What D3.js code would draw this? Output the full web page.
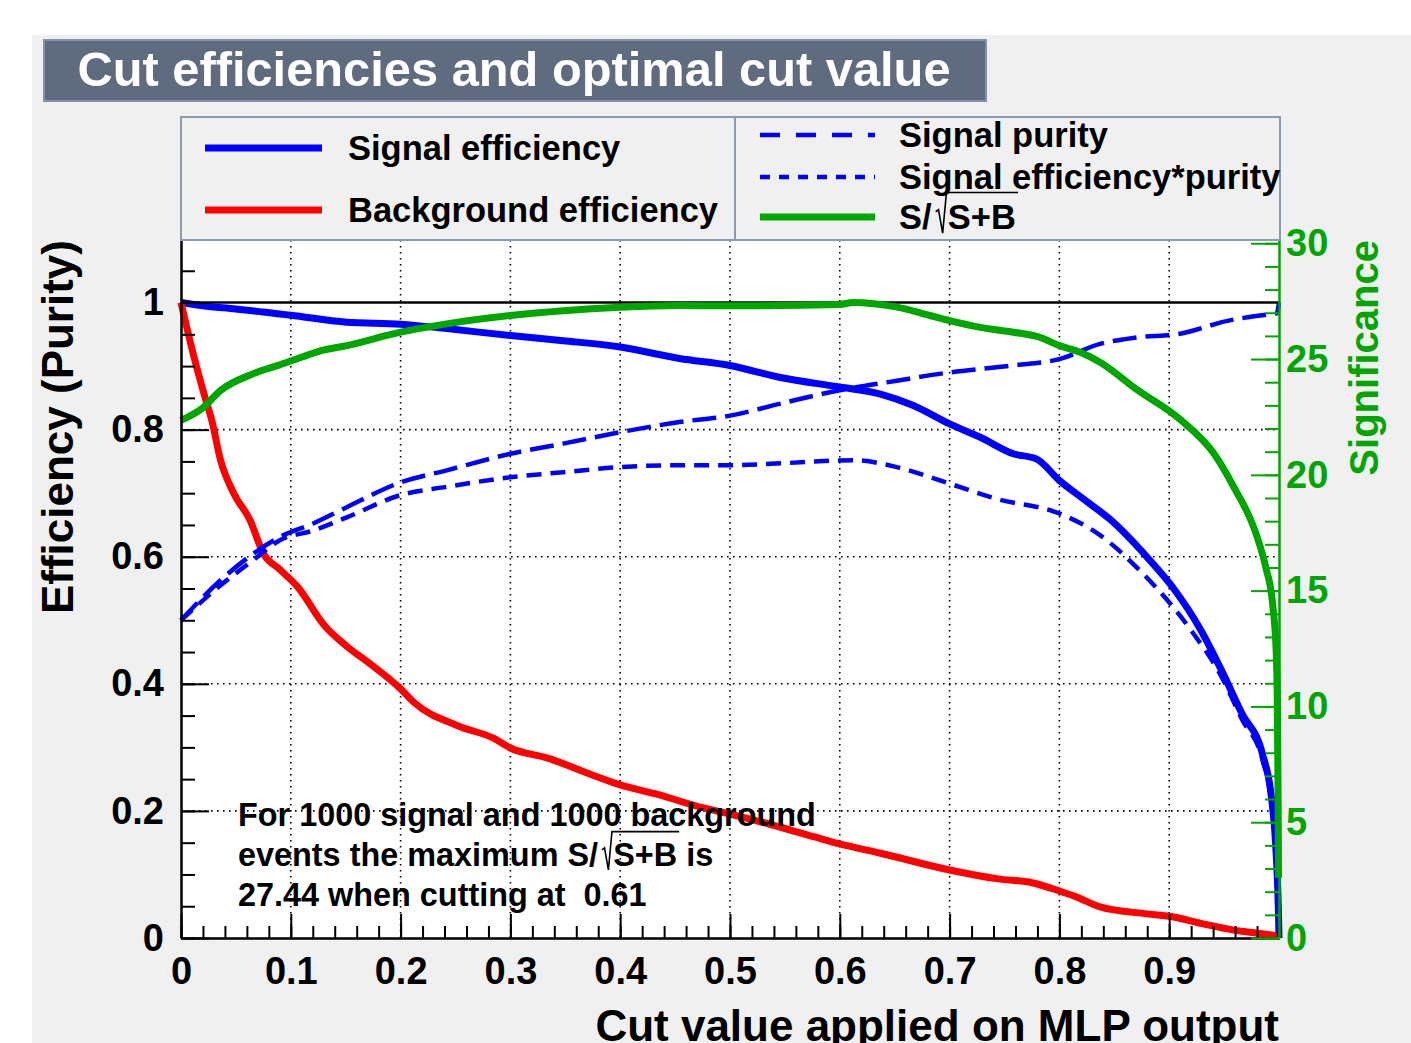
<!DOCTYPE html>
<html>
<head>
<meta charset="UTF-8">
<title>Cut efficiencies and optimal cut value</title>
<script src="https://cdn.jsdelivr.net/npm/d3@7"></script>
<style>
  body { margin: 0; background: #ffffff; }
  svg { display: block; font-family: "Liberation Sans", Arial, Helvetica, sans-serif; font-weight: bold; }
  text { white-space: pre; }
</style>
</head>
<body>
<svg width="1411" height="1043"></svg>
<script>
// values: [cut value, efficiency]
const signalEfficiency = [
  [0, 1.0], [0.02, 0.995], [0.05, 0.99], [0.09, 0.982], [0.1, 0.98], [0.151, 0.969],
  [0.2, 0.966], [0.242, 0.959], [0.3, 0.948], [0.348, 0.94], [0.4, 0.93], [0.454, 0.912],
  [0.5, 0.901], [0.546, 0.882], [0.6, 0.867], [0.637, 0.856], [0.667, 0.838], [0.7, 0.809],
  [0.728, 0.788], [0.758, 0.762], [0.779, 0.754], [0.8, 0.72], [0.821, 0.692], [0.846, 0.659],
  [0.88, 0.599], [0.904, 0.55], [0.929, 0.484], [0.948, 0.42], [0.966, 0.354], [0.985, 0.289],
  [0.993, 0.223], [0.997, 0.146], [0.9995, 0.04], [1.0, 0.0]
];
const backgroundEfficiency = [
  [0, 1.0], [0.011, 0.92], [0.022, 0.85], [0.028, 0.815], [0.036, 0.752], [0.048, 0.70],
  [0.063, 0.657], [0.075, 0.605], [0.09, 0.58], [0.106, 0.553], [0.131, 0.491], [0.151, 0.459],
  [0.171, 0.433], [0.2, 0.392], [0.212, 0.371], [0.252, 0.334], [0.285, 0.314], [0.3, 0.299],
  [0.334, 0.283], [0.374, 0.257], [0.4, 0.241], [0.434, 0.226], [0.475, 0.205], [0.5, 0.195],
  [0.536, 0.179], [0.577, 0.159], [0.6, 0.148], [0.638, 0.133], [0.7, 0.107], [0.744, 0.093],
  [0.775, 0.087], [0.8, 0.074], [0.815, 0.065], [0.837, 0.049], [0.88, 0.038], [0.904, 0.033],
  [0.929, 0.023], [0.96, 0.012], [0.979, 0.008], [1.0, 0.003]
];
const signalPurity = [
  [0, 0.5], [0.036, 0.563], [0.066, 0.605], [0.09, 0.631], [0.12, 0.652], [0.151, 0.678],
  [0.2, 0.717], [0.242, 0.736], [0.3, 0.762], [0.348, 0.778], [0.4, 0.796], [0.454, 0.812],
  [0.5, 0.822], [0.546, 0.841], [0.6, 0.862], [0.652, 0.877], [0.7, 0.89], [0.758, 0.901],
  [0.8, 0.911], [0.837, 0.935], [0.87, 0.945], [0.91, 0.951], [0.955, 0.972], [0.985, 0.98],
  [0.998, 0.983], [1.0, 1.0]
];
const signalEffTimesPurity = [
  [0, 0.5], [0.036, 0.555], [0.066, 0.595], [0.09, 0.626], [0.12, 0.641], [0.151, 0.662],
  [0.2, 0.697], [0.242, 0.71], [0.3, 0.725], [0.348, 0.733], [0.4, 0.741], [0.454, 0.744],
  [0.5, 0.744], [0.546, 0.747], [0.612, 0.752], [0.652, 0.741], [0.7, 0.715], [0.743, 0.691],
  [0.8, 0.668], [0.837, 0.634], [0.874, 0.577], [0.902, 0.524], [0.92, 0.484], [0.948, 0.41],
  [0.966, 0.345], [0.985, 0.28], [0.993, 0.215], [0.997, 0.14], [0.9995, 0.04], [1.0, 0.0]
];
// [cut value, S/sqrt(S+B)]
const significance = [
  [0, 22.35], [0.02, 22.9], [0.036, 23.64], [0.066, 24.37], [0.09, 24.75], [0.111, 25.1],
  [0.127, 25.35], [0.151, 25.58], [0.2, 26.16], [0.242, 26.52], [0.3, 26.88], [0.348, 27.09],
  [0.4, 27.24], [0.454, 27.31], [0.5, 27.3], [0.6, 27.36], [0.612, 27.44], [0.652, 27.24],
  [0.682, 26.88], [0.7, 26.66], [0.728, 26.37], [0.758, 26.16], [0.782, 25.94], [0.8, 25.58],
  [0.819, 25.29], [0.837, 24.86], [0.87, 23.7], [0.911, 22.35], [0.941, 20.9], [0.959, 19.46],
  [0.979, 17.47], [0.988, 16.0], [0.994, 14.5], [0.9975, 12.3], [0.9985, 10.0], [0.9992, 6.0],
  [0.9996, 2.6]
];
const maxSignificance = 27.44;

const effTicks = [0, 0.2, 0.4, 0.6, 0.8, 1.0];
const effTickLabels = ["0", "0.2", "0.4", "0.6", "0.8", "1"];
const cutTicks = [0, 0.1, 0.2, 0.3, 0.4, 0.5, 0.6, 0.7, 0.8, 0.9];
const cutTickLabels = ["0", "0.1", "0.2", "0.3", "0.4", "0.5", "0.6", "0.7", "0.8", "0.9"];
const sigTicks = [0, 5, 10, 15, 20, 25, 30];
const sigTickLabels = ["0", "5", "10", "15", "20", "25", "30"];

const blue = "#0000ff", red = "#ff0000", green = "#00a600";

let svg = d3.select("svg");
let plotLeft = 181, plotRight = 1279, plotTop = 239, plotBottom = 938;

let x = d3.scaleLinear().domain([0, 1]).range([plotLeft, plotRight]);
let y = d3.scaleLinear().domain([0, 1.1]).range([plotBottom, plotTop]);
let ySig = d3.scaleLinear().domain([0, maxSignificance * 1.1]).range([plotBottom, plotTop]);

// canvas
svg.append("rect").attr("x", 32).attr("y", 35).attr("width", 1411 - 32).attr("height", 1043 - 35)
  .attr("fill", "#f0f0f0");

// title box
svg.append("rect").attr("x", 44).attr("y", 40).attr("width", 942).attr("height", 61)
  .attr("fill", "#5f6b7e").attr("stroke", "#8593a8").attr("stroke-width", 2);
svg.append("text").attr("x", 514).attr("y", 86).attr("text-anchor", "middle")
  .attr("font-size", 48.8).attr("fill", "#ffffff")
  .text("Cut efficiencies and optimal cut value");

// plot area
svg.append("rect").attr("x", plotLeft).attr("y", 240).attr("width", plotRight - plotLeft).attr("height", plotBottom - 240)
  .attr("fill", "#ffffff");

// grid
let grid = svg.append("g").attr("stroke", "#000").attr("stroke-width", 1.6).attr("stroke-dasharray", "1.6,4.4");
grid.selectAll(".vg").data(cutTicks.filter(d => d > 0)).enter().append("line")
  .attr("x1", d => x(d)).attr("x2", d => x(d)).attr("y1", 240).attr("y2", plotBottom);
grid.selectAll(".hg").data(effTicks.filter(d => d > 0 && d < 1)).enter().append("line")
  .attr("x1", plotLeft).attr("x2", plotRight).attr("y1", d => y(d)).attr("y2", d => y(d));

// curves
let effLine = d3.line().x(d => x(d[0])).y(d => y(d[1])).curve(d3.curveMonotoneX);
let sigLine = d3.line().x(d => x(d[0])).y(d => ySig(d[1])).curve(d3.curveMonotoneX);

function curve(data, gen, color, width, dash) {
  let p = svg.append("path").datum(data).attr("d", gen)
    .attr("fill", "none").attr("stroke", color).attr("stroke-width", width)
    .attr("stroke-linejoin", "round");
  if (dash) p.attr("stroke-dasharray", dash);
  return p;
}
curve(signalEfficiency, effLine, blue, 7);
curve(backgroundEfficiency, effLine, red, 7);
curve(signalPurity, effLine, blue, 4.5, "24,9");
curve(signalEffTimesPurity, effLine, blue, 4.5, "15,9");

svg.append("line").attr("x1", plotLeft).attr("x2", plotRight).attr("y1", y(1)).attr("y2", y(1))
  .attr("stroke", "#000").attr("stroke-width", 2.5);

curve(significance, sigLine, green, 7);

// axes
function styleAxis(g, color) {
  g.attr("font-family", null).attr("font-size", null).style("color", color);
  g.selectAll("path, line").attr("stroke-width", 2);
  g.selectAll("text").attr("font-size", 38).attr("font-weight", "bold");
}

svg.append("g").attr("transform", `translate(${plotLeft},0)`)
  .call(d3.axisLeft(y).tickValues(d3.range(0, 1.1, 0.05)).tickSizeInner(-14).tickSizeOuter(0).tickFormat(""))
  .call(g => styleAxis(g, "#000"));
svg.append("g").attr("transform", `translate(${plotLeft},0)`)
  .call(d3.axisLeft(y).tickValues(effTicks).tickSizeInner(-28).tickSizeOuter(0).tickPadding(17)
    .tickFormat((d, i) => effTickLabels[i]))
  .call(g => styleAxis(g, "#000"));

svg.append("g").attr("transform", `translate(0,${plotBottom})`)
  .call(d3.axisBottom(x).tickValues(d3.range(0, 1.001, 0.02)).tickSizeInner(-12).tickSizeOuter(0).tickFormat(""))
  .call(g => styleAxis(g, "#000"));
svg.append("g").attr("transform", `translate(0,${plotBottom})`)
  .call(d3.axisBottom(x).tickValues(cutTicks).tickSizeInner(-24).tickSizeOuter(0).tickPadding(19)
    .tickFormat((d, i) => cutTickLabels[i]))
  .call(g => styleAxis(g, "#000"));

svg.append("g").attr("transform", `translate(${plotRight},0)`)
  .call(d3.axisRight(ySig).tickValues(d3.range(0, 31, 1)).tickSizeInner(-14).tickSizeOuter(0).tickFormat(""))
  .call(g => styleAxis(g, green));
svg.append("g").attr("transform", `translate(${plotRight},0)`)
  .call(d3.axisRight(ySig).tickValues(sigTicks).tickSizeInner(-28).tickSizeOuter(0).tickPadding(7)
    .tickFormat((d, i) => sigTickLabels[i]))
  .call(g => styleAxis(g, green));

// axis titles
svg.append("text").attr("transform", "translate(73,240) rotate(-90)").attr("text-anchor", "end")
  .attr("font-size", 44).attr("fill", "#000").text("Efficiency (Purity)");
svg.append("text").attr("transform", "translate(1378,240) rotate(-90)").attr("text-anchor", "end")
  .attr("font-size", 40).attr("fill", green).text("Significance");
svg.append("text").attr("x", plotRight).attr("y", 1041).attr("text-anchor", "end")
  .attr("font-size", 44).attr("fill", "#000").text("Cut value applied on MLP output");

// text with a ROOT style square root
function sqrtText(g, x0, yb, fs, pre, inside, post) {
  let t1 = g.append("text").attr("x", x0).attr("y", yb).attr("font-size", fs).text(pre);
  let xc = x0 + t1.node().getComputedTextLength();
  let rx = xc + fs * 0.12;
  let sx = xc + fs * 0.47;
  let t2 = g.append("text").attr("x", sx).attr("y", yb).attr("font-size", fs).text(inside);
  let ex = sx + t2.node().getComputedTextLength();
  g.append("path")
    .attr("d", `M${rx},${yb - fs * 0.5} L${rx + fs * 0.08},${yb - fs * 0.56} L${rx + fs * 0.2},${yb + fs * 0.12} L${sx - fs * 0.04},${yb - fs * 1.06} H${ex + fs * 0.06}`)
    .attr("fill", "none").attr("stroke", "#000").attr("stroke-width", 1.6);
  if (post) g.append("text").attr("x", ex).attr("y", yb).attr("font-size", fs).text(post);
}

// legends
svg.append("rect").attr("x", plotLeft).attr("y", 117).attr("width", 735 - plotLeft).attr("height", 240 - 117)
  .attr("fill", "#f0f0f0").attr("stroke", "#8d9ab0").attr("stroke-width", 2);
svg.append("rect").attr("x", 735).attr("y", 117).attr("width", 1280 - 735).attr("height", 240 - 117)
  .attr("fill", "#f0f0f0").attr("stroke", "#8d9ab0").attr("stroke-width", 2);

let legFs = 34.5;
let legendLeft = [
  { label: "Signal efficiency", color: blue, ly: 148, by: 160 },
  { label: "Background efficiency", color: red, ly: 210, by: 222 }
];
let lg = svg.append("g").attr("fill", "#000");
legendLeft.forEach(d => {
  lg.append("line").attr("x1", 205).attr("x2", 322).attr("y1", d.ly).attr("y2", d.ly)
    .attr("stroke", d.color).attr("stroke-width", 7);
  lg.append("text").attr("x", 348).attr("y", d.by).attr("font-size", legFs).text(d.label);
});

let legendRight = [
  { label: "Signal purity", color: blue, width: 4.5, dash: "20,16", ly: 135, by: 147 },
  { label: "Signal efficiency*purity", color: blue, width: 4.5, dash: "10,9", ly: 177, by: 189 },
  { label: null, color: green, width: 7, dash: null, ly: 217, by: 229 }
];
legendRight.forEach(d => {
  let l = lg.append("line").attr("x1", 760).attr("x2", 875).attr("y1", d.ly).attr("y2", d.ly)
    .attr("stroke", d.color).attr("stroke-width", d.width);
  if (d.dash) l.attr("stroke-dasharray", d.dash);
  if (d.label) lg.append("text").attr("x", 899).attr("y", d.by).attr("font-size", legFs).text(d.label);
});
sqrtText(lg, 899, 229, legFs, "S/", "S+B", null);

// result text
let note = svg.append("g").attr("fill", "#000");
let noteFs = 32.4;
note.append("text").attr("x", 238).attr("y", 826).attr("font-size", noteFs)
  .text("For 1000 signal and 1000 background");
sqrtText(note, 238, 866, noteFs, "events the maximum S/", "S+B", " is");
note.append("text").attr("x", 238).attr("y", 906).attr("font-size", noteFs)
  .text("27.44 when cutting at  0.61");
</script>
</body>
</html>
